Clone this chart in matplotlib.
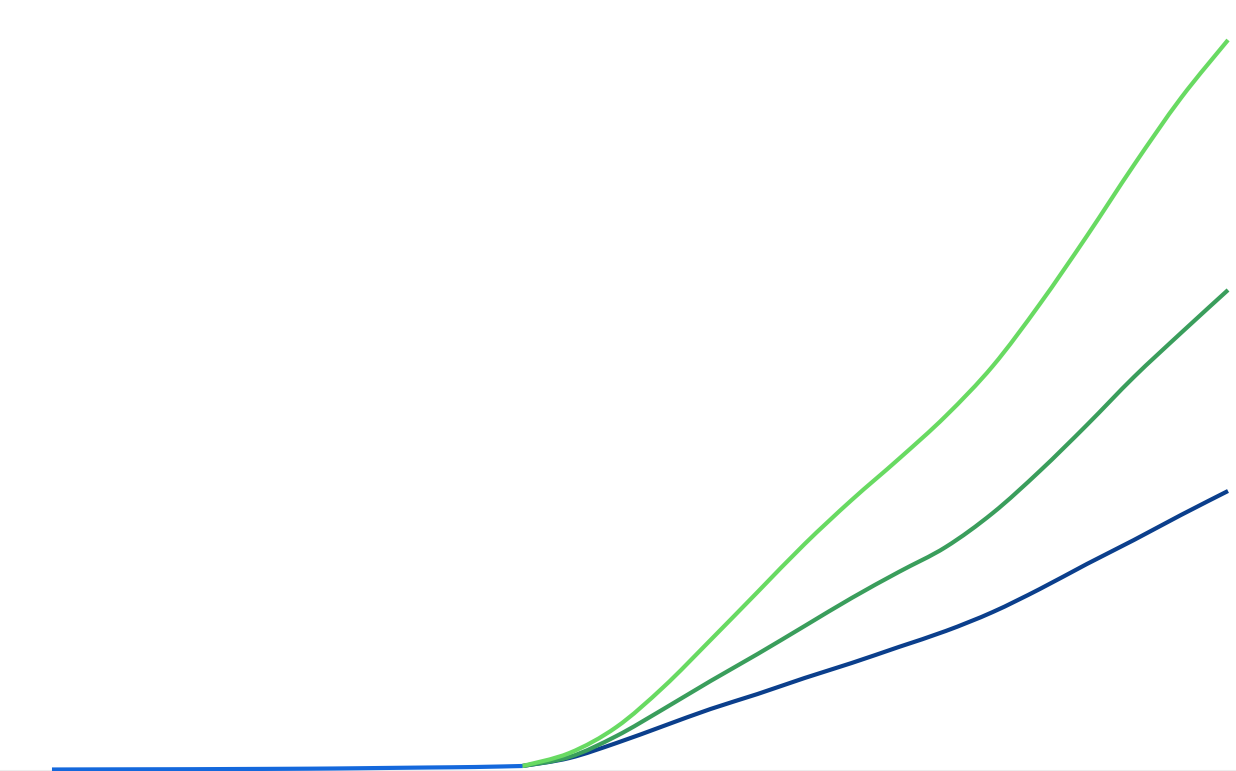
import matplotlib
matplotlib.use("Agg")
import matplotlib.pyplot as plt
from matplotlib.path import Path
from matplotlib.patches import PathPatch

# Data (arbitrary units)
hist_years = [2000, 2002, 2004, 2006, 2008, 2010, 2012, 2014, 2016, 2018, 2020]
hist_values = [0.05, 0.06, 0.07, 0.08, 0.1, 0.12, 0.15, 0.2, 0.25, 0.3, 0.4]

proj_years = [2020, 2022, 2024, 2026, 2028, 2030, 2032, 2034, 2036, 2038,
              2040, 2042, 2044, 2046, 2048, 2050]
high_values = [0.4, 1.7, 4.3, 8.3, 13.0, 17.8, 22.6, 27.0, 31.1, 35.4,
               40.4, 46.6, 53.4, 60.5, 67.2, 73.0]
mid_values = [0.4, 1.3, 3.4, 6.1, 8.9, 11.6, 14.4, 17.2, 19.8, 22.3,
              25.7, 29.9, 34.5, 39.3, 43.7, 48.0]
low_values = [0.4, 1.2, 2.7, 4.4, 6.1, 7.6, 9.2, 10.7, 12.3, 13.9,
              15.8, 18.1, 20.6, 23.0, 25.5, 27.9]


def spline_path(xs, ys):
    """Smooth (Catmull-Rom style) cubic Bezier path through the data points."""
    n = len(xs)
    verts = [(xs[0], ys[0])]
    codes = [Path.MOVETO]
    for i in range(n - 1):
        x0, y0 = (xs[i - 1], ys[i - 1]) if i > 0 else (xs[i], ys[i])
        x1, y1 = xs[i], ys[i]
        x2, y2 = xs[i + 1], ys[i + 1]
        x3, y3 = (xs[i + 2], ys[i + 2]) if i + 2 < n else (x2, y2)
        c1 = (x1 + (x2 - x0) / 6.0, y1 + (y2 - y0) / 6.0)
        c2 = (x2 - (x3 - x1) / 6.0, y2 - (y3 - y1) / 6.0)
        verts += [c1, c2, (x2, y2)]
        codes += [Path.CURVE4] * 3
    return Path(verts, codes)


fig = plt.figure(figsize=(12.36, 7.71), dpi=100)
fig.patch.set_facecolor("white")
ax = fig.add_axes([0, 0, 1, 1])
ax.set_facecolor("white")

lw = 3.0
series = [
    (proj_years, low_values, "#0b3f8c", 3),
    (proj_years, mid_values, "#3a9e5c", 4),
    (proj_years, high_values, "#68da62", 5),
    (hist_years, hist_values, "#1468dc", 6),
]
for xs, ys, col, z in series:
    patch = PathPatch(spline_path(xs, ys), facecolor="none", edgecolor=col,
                      linewidth=lw, capstyle="butt", joinstyle="round",
                      zorder=z)
    ax.add_patch(patch)

ax.axhline(-0.07, color="#ececec", linewidth=1.5, zorder=1)

ax.set_xlim(1997.79, 2050.34)
ax.set_ylim(-0.1, 77.0)
ax.axis("off")

fig.savefig("out.png", dpi=100, facecolor="white")
